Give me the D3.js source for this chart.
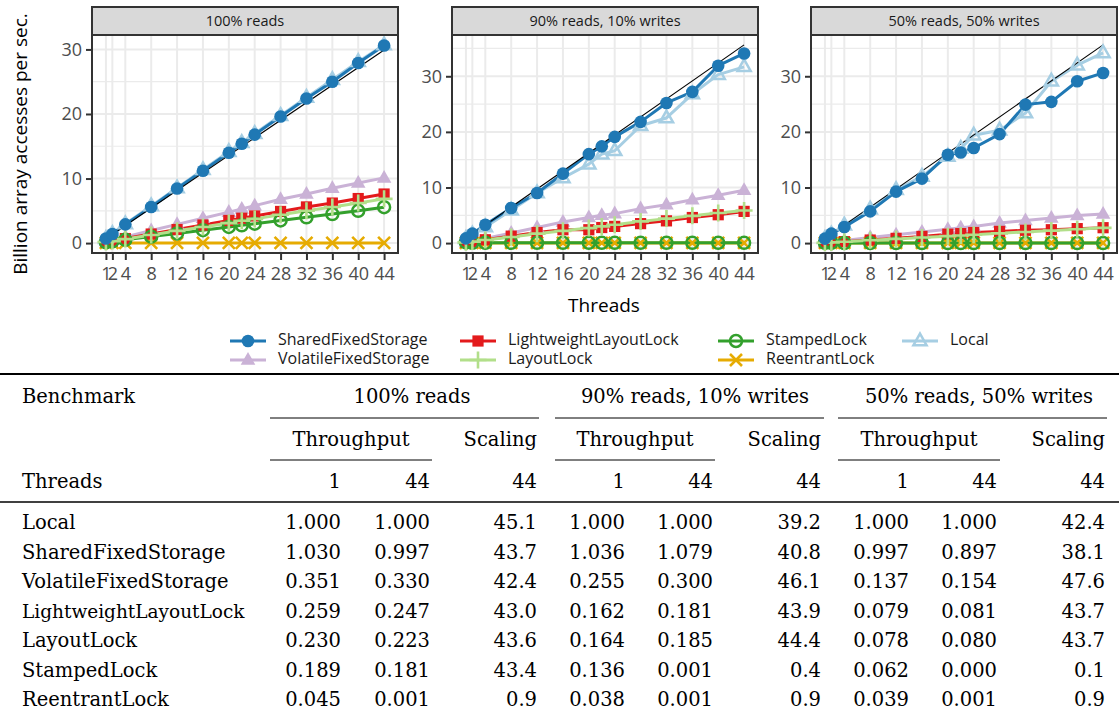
<!DOCTYPE html>
<html><head><meta charset="utf-8">
<script src="https://cdn.jsdelivr.net/npm/d3@7"></script>
<style>body{margin:0;background:#fff;} svg{display:block}</style>
</head><body><svg id="c" width="1119" height="717"></svg>
<script>
// ---------------- data ----------------
const threads = [1,2,4,8,12,16,20,22,24,28,32,36,40,44];
const xTickLabels = [1,2,4,8,12,16,20,24,28,32,36,40,44];
const yTickLabels = [0,10,20,30];
const panelTitles = ["100% reads","90% reads, 10% writes","50% reads, 50% writes"];

const sharedFixedStorage = [
  [0.70,1.40,2.90,5.60,8.45,11.2,14.0,15.4,16.8,19.6,22.4,25.0,27.9,30.6],
  [0.84,1.70,3.30,6.30,9.00,12.5,16.0,17.4,19.1,21.8,25.2,27.2,31.9,34.1],
  [0.80,1.70,2.90,5.70,9.25,11.6,15.9,16.3,17.1,19.6,24.9,25.4,29.1,30.6]];
const volatileFixedStorage = [
  [0.24,0.48,0.95,1.95,2.90,3.85,4.80,5.30,5.80,6.80,7.60,8.50,9.30,10.1],
  [0.21,0.42,0.85,1.80,2.80,3.80,4.60,5.00,5.30,6.20,6.90,7.80,8.60,9.50],
  [0.11,0.22,0.45,1.00,1.50,2.00,2.50,2.75,3.00,3.60,4.05,4.50,4.95,5.25]];
const lightweightLayoutLock = [
  [0.18,0.35,0.70,1.40,2.10,2.80,3.50,3.85,4.20,4.90,5.60,6.20,6.90,7.60],
  [0.13,0.26,0.60,1.25,1.90,2.40,2.40,2.80,3.00,3.50,4.00,4.60,5.10,5.70],
  [0.064,0.13,0.26,0.55,0.85,1.20,1.60,1.70,1.90,2.10,2.30,2.40,2.60,2.77]];
const layoutLock = [
  [0.16,0.31,0.62,1.25,1.90,2.50,3.10,3.45,3.75,4.40,5.00,5.60,6.20,6.85],
  [0.13,0.27,0.55,1.10,1.70,2.20,2.70,3.00,3.30,3.90,4.40,4.90,5.40,5.86],
  [0.063,0.125,0.25,0.50,0.75,1.00,1.25,1.37,1.50,1.75,2.00,2.25,2.50,2.74]];
const stampedLock = [
  [0.13,0.26,0.50,1.00,1.50,2.00,2.50,2.75,3.00,3.50,4.00,4.50,5.00,5.56],
  [0.11,0.05,0.04,0.04,0.04,0.04,0.04,0.04,0.04,0.04,0.04,0.04,0.04,0.04],
  [0.05,0.02,0.01,0.01,0.01,0.01,0.01,0.01,0.01,0.005,0.005,0.005,0.005,0.005]];
const reentrantLock = [
  [0.031,0.030,0.030,0.030,0.030,0.030,0.030,0.030,0.030,0.030,0.030,0.030,0.030,0.030],
  [0.031,0.030,0.030,0.030,0.030,0.030,0.030,0.030,0.030,0.030,0.030,0.030,0.030,0.028],
  [0.031,0.030,0.030,0.030,0.030,0.030,0.030,0.030,0.030,0.030,0.030,0.030,0.030,0.028]];
const local = [
  [0.68,1.45,2.95,5.75,8.55,11.35,14.15,15.55,16.95,19.75,22.55,25.3,28.1,30.7],
  [0.81,1.60,2.90,5.90,9.00,11.70,14.20,16.00,16.60,21.10,22.50,26.8,30.3,31.7],
  [0.81,1.60,3.20,6.10,9.60,12.00,15.60,17.00,19.40,20.30,23.40,29.1,32.0,34.2]];

// table
const tableBenchmarks = ["Local","SharedFixedStorage","VolatileFixedStorage","LightweightLayoutLock","LayoutLock","StampedLock","ReentrantLock"];
const tableReads100 = [["1.000","1.000","45.1"],["1.030","0.997","43.7"],["0.351","0.330","42.4"],["0.259","0.247","43.0"],["0.230","0.223","43.6"],["0.189","0.181","43.4"],["0.045","0.001","0.9"]];
const tableReads90 = [["1.000","1.000","39.2"],["1.036","1.079","40.8"],["0.255","0.300","46.1"],["0.162","0.181","43.9"],["0.164","0.185","44.4"],["0.136","0.001","0.4"],["0.038","0.001","0.9"]];
const tableReads50 = [["1.000","1.000","42.4"],["0.997","0.897","38.1"],["0.137","0.154","47.6"],["0.079","0.081","43.7"],["0.078","0.080","43.7"],["0.062","0.000","0.1"],["0.039","0.001","0.9"]];

// ---------------- styles ----------------
const seriesDefs = [
  {name:"Local", vals:local, color:"#A6CEE3", shape:"triOpen"},
  {name:"ReentrantLock", vals:reentrantLock, color:"#E6AB02", shape:"x"},
  {name:"VolatileFixedStorage", vals:volatileFixedStorage, color:"#CAB2D6", shape:"tri"},
  {name:"LightweightLayoutLock", vals:lightweightLayoutLock, color:"#E31A1C", shape:"square"},
  {name:"StampedLock", vals:stampedLock, color:"#33A02C", shape:"circleOpen"},
  {name:"LayoutLock", vals:layoutLock, color:"#B2DF8A", shape:"plus"},
  {name:"SharedFixedStorage", vals:sharedFixedStorage, color:"#1F78B4", shape:"circle"}
];
const byName = Object.fromEntries(seriesDefs.map(d=>[d.name,d]));

const svg = d3.select("#c");
const sans = "'Open Sans', sans-serif";
const panelX = [[92,398],[452,758],[811,1117]];
const plotTop = 35, plotBottom = 253, stripTop = 7;

function marker(g, shape, color, x, y) {
  if (shape === "circle") g.append("circle").attr("cx",x).attr("cy",y).attr("r",6.3).attr("fill",color);
  else if (shape === "circleOpen") g.append("circle").attr("cx",x).attr("cy",y).attr("r",6.0).attr("fill","none").attr("stroke",color).attr("stroke-width",2.5);
  else if (shape === "square") g.append("rect").attr("x",x-5.6).attr("y",y-5.6).attr("width",11.2).attr("height",11.2).attr("fill",color);
  else if (shape === "tri") g.append("path").attr("d",`M${x},${y-8}L${x+7.3},${y+4.8}L${x-7.3},${y+4.8}Z`).attr("fill",color);
  else if (shape === "triOpen") g.append("path").attr("d",`M${x},${y-7.4}L${x+6.6},${y+4.3}L${x-6.6},${y+4.3}Z`).attr("fill","none").attr("stroke",color).attr("stroke-width",2.5);
  else if (shape === "plus") g.append("path").attr("d",`M${x-8.5},${y}H${x+8.5}M${x},${y-8.5}V${y+8.5}`).attr("stroke",color).attr("stroke-width",2.6);
  else if (shape === "x") g.append("path").attr("d",`M${x-6},${y-6}L${x+6},${y+6}M${x-6},${y+6}L${x+6},${y-6}`).attr("stroke",color).attr("stroke-width",2.6);
}

panelTitles.forEach((title, p) => {
  const [x0, x1] = panelX[p];
  const all = seriesDefs.flatMap(s => s.vals[p]).concat([threads[threads.length-1]*local[p][0]]);
  const M = d3.max(all);
  const x = d3.scaleLinear().domain([1 - 0.05*43, 44 + 0.05*43]).range([x0, x1]);
  const y = d3.scaleLinear().domain([-0.05*M, 1.05*M]).range([plotBottom, plotTop]);
  const g = svg.append("g");

  // background + grid
  g.append("rect").attr("x",x0).attr("y",plotTop).attr("width",x1-x0).attr("height",plotBottom-plotTop).attr("fill","#fff");
  const minor = [5,15,25,35].filter(v => y(v) > plotTop);
  g.selectAll(".mn").data(minor).join("line").attr("x1",x0).attr("x2",x1).attr("y1",d=>y(d)).attr("y2",d=>y(d)).attr("stroke","#EBEBEB").attr("stroke-width",1.2);
  g.selectAll(".mj").data(yTickLabels).join("line").attr("x1",x0).attr("x2",x1).attr("y1",d=>y(d)).attr("y2",d=>y(d)).attr("stroke","#EBEBEB").attr("stroke-width",2);
  g.selectAll(".mv").data(xTickLabels).join("line").attr("y1",plotTop).attr("y2",plotBottom).attr("x1",d=>x(d)).attr("x2",d=>x(d)).attr("stroke","#EBEBEB").attr("stroke-width",2);

  const clip = g.append("g");
  const line = d3.line().x((d,i)=>x(threads[i])).y(d=>y(d));
  // series lines
  seriesDefs.forEach(s => {
    clip.append("path").attr("d", line(s.vals[p])).attr("fill","none").attr("stroke",s.color).attr("stroke-width",3).attr("stroke-linejoin","round");
  });
  // ideal scaling line
  const ideal = [threads[0], threads[threads.length-1]];
  clip.append("path").attr("d", d3.line().x(d=>x(d)).y(d=>y(d*local[p][0]))(ideal)).attr("fill","none").attr("stroke","#000").attr("stroke-width",1.1);
  // points
  seriesDefs.forEach(s => {
    s.vals[p].forEach((v,i) => marker(clip, s.shape, s.color, x(threads[i]), y(v)));
  });

  // axes
  const ya = g.append("g").attr("transform",`translate(${x0},0)`).call(d3.axisLeft(y).tickValues(yTickLabels).tickSize(6).tickPadding(4));
  const xa = g.append("g").attr("transform",`translate(0,${plotBottom})`).call(d3.axisBottom(x).tickValues(xTickLabels).tickSize(7).tickPadding(7));
  [ya, xa].forEach(a => {
    a.select(".domain").remove();
    a.selectAll(".tick line").attr("stroke","#333").attr("stroke-width",2);
    a.selectAll(".tick text").attr("fill","#4D4D4D").style("font-family",sans).style("font-size","18px");
  });
  // panel border
  g.append("rect").attr("x",x0).attr("y",plotTop).attr("width",x1-x0).attr("height",plotBottom-plotTop).attr("fill","none").attr("stroke","#333").attr("stroke-width",2);
  // strip
  g.append("rect").attr("x",x0).attr("y",stripTop).attr("width",x1-x0).attr("height",plotTop-stripTop).attr("fill","#D9D9D9").attr("stroke","#333").attr("stroke-width",2);
  g.append("text").attr("x",(x0+x1)/2).attr("y",(stripTop+plotTop)/2+1).attr("text-anchor","middle").attr("dominant-baseline","middle")
    .style("font-family",sans).style("font-size","14.5px").attr("fill","#1A1A1A").text(title);
});

// axis titles
svg.append("text").attr("x",604).attr("y",307).attr("text-anchor","middle").attr("dominant-baseline","middle")
  .style("font-family",sans).style("font-size","19px").text("Threads");
svg.append("text").attr("transform","translate(22,144) rotate(-90)").attr("text-anchor","middle").attr("dominant-baseline","middle")
  .style("font-family",sans).style("font-size","19px").text("Billion array accesses per sec.");

// legend
const legendOrder = [["SharedFixedStorage","VolatileFixedStorage"],["LightweightLayoutLock","LayoutLock"],["StampedLock","ReentrantLock"],["Local"]];
const legendColX = [230, 460, 718, 902];
const legendRowY = [341, 360];
legendOrder.forEach((col, ci) => col.forEach((name, ri) => {
  const s = byName[name];
  const kx = legendColX[ci], ky = legendRowY[ri];
  svg.append("line").attr("x1",kx).attr("x2",kx+36).attr("y1",ky).attr("y2",ky).attr("stroke",s.color).attr("stroke-width",3);
  marker(svg, s.shape, s.color, kx+18, ky);
  svg.append("text").attr("x",kx+48).attr("y",ky).attr("dominant-baseline","middle")
    .style("font-family",sans).style("font-size","16px").attr("fill","#1A1A1A").text(name);
}));

// ---------------- table ----------------
const serif = "'DejaVu Serif', serif";
const T = svg.append("g").style("font-family",serif).style("font-size","19.5px").attr("fill","#000");
const rule = (x1,x2,y,w) => T.append("line").attr("x1",x1).attr("x2",x2).attr("y1",y).attr("y2",y).attr("stroke","#000").attr("stroke-width",w);
rule(0,1119,374,2);
rule(0,1119,502,1.3);
const groupSpans = [[270,539],[555,824],[838,1107]];
const tpSpans = [[270,432],[555,715],[838,1000]];
const colRight = [[341,430,537],[625,713,821],[909,997,1105]];
const groupTitleX = [412,695,979];
const groups = [tableReads100, tableReads90, tableReads50];
T.append("text").attr("x",22).attr("y",403).text("Benchmark");
T.append("text").attr("x",22).attr("y",488).text("Threads");
groups.forEach((rows, gi) => {
  rule(groupSpans[gi][0], groupSpans[gi][1], 418, 1);
  rule(tpSpans[gi][0], tpSpans[gi][1], 460, 1);
  T.append("text").attr("x",groupTitleX[gi]).attr("y",403).attr("text-anchor","middle").text(panelTitles[gi]);
  T.append("text").attr("x",(tpSpans[gi][0]+tpSpans[gi][1])/2).attr("y",446).attr("text-anchor","middle").text("Throughput");
  T.append("text").attr("x",colRight[gi][2]).attr("y",446).attr("text-anchor","end").text("Scaling");
  ["1","44","44"].forEach((h,ci) => T.append("text").attr("x",colRight[gi][ci]).attr("y",488).attr("text-anchor","end").text(h));
  rows.forEach((r, ri) => r.forEach((v, ci) => {
    T.append("text").attr("x",colRight[gi][ci]).attr("y",529 + ri*29.5).attr("text-anchor","end").text(v);
  }));
});
tableBenchmarks.forEach((b, ri) => {
  T.append("text").attr("x",22).attr("y",529 + ri*29.5).style("font-size", b === "LightweightLayoutLock" ? "18.5px" : null).text(b);
});
</script></body></html>
